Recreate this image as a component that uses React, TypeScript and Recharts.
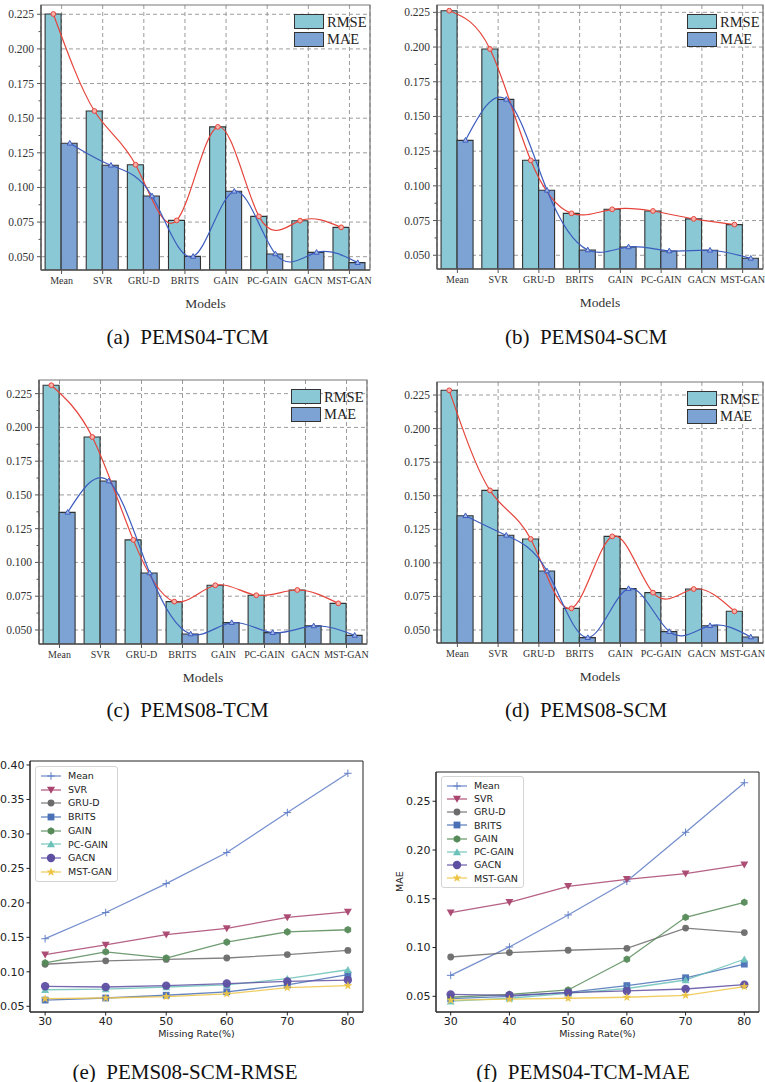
import React from 'react';
import {
  ComposedChart,
  LineChart,
  Bar,
  Line,
  XAxis,
  YAxis,
  CartesianGrid,
  Legend,
  ReferenceArea,
} from 'recharts';

const SERIF = '"Liberation Serif", "Times New Roman", serif';
const SANS = '"DejaVu Sans", Verdana, sans-serif';

// ---- bar panels (a)-(d) ----------------------------------------------------
const MODELS = ['Mean', 'SVR', 'GRU-D', 'BRITS', 'GAIN', 'PC-GAIN', 'GACN', 'MST-GAN'];

// (a) PEMS04-TCM
const A_RMSE = [0.2252, 0.1552, 0.1164, 0.0762, 0.1437, 0.0791, 0.076, 0.0712];
const A_MAE = [0.1319, 0.116, 0.0938, 0.0502, 0.0972, 0.052, 0.0531, 0.0457];
// (b) PEMS04-SCM
const B_RMSE = [0.2262, 0.1986, 0.1184, 0.0802, 0.0831, 0.0819, 0.0762, 0.0721];
const B_MAE = [0.1328, 0.1623, 0.0968, 0.0538, 0.056, 0.0531, 0.0536, 0.0478];
// (c) PEMS08-TCM
const C_RMSE = [0.2312, 0.1929, 0.1167, 0.071, 0.0831, 0.0757, 0.0796, 0.0697];
const C_MAE = [0.1371, 0.1603, 0.0922, 0.047, 0.0554, 0.048, 0.053, 0.046];
// (d) PEMS08-SCM
const D_RMSE = [0.2285, 0.154, 0.1178, 0.0661, 0.1197, 0.0778, 0.0805, 0.0639];
const D_MAE = [0.1351, 0.1205, 0.0939, 0.0443, 0.0808, 0.0488, 0.0532, 0.0448];

const BAR_Y_TICKS = [
  0.05, 0.0625, 0.075, 0.0875, 0.1, 0.1125, 0.125, 0.1375, 0.15, 0.1625, 0.175, 0.1875, 0.2, 0.2125,
  0.225,
];
const BAR_Y_MAJOR = [0.05, 0.075, 0.1, 0.125, 0.15, 0.175, 0.2, 0.225];

const RMSE_FILL = '#8AC8D5';
const MAE_FILL = '#7CA3D4';
const BAR_EDGE = '#333333';
const RMSE_LINE = '#E5443B';
const MAE_LINE = '#3C5CBE';

// ---- line panels (e)-(f) ---------------------------------------------------
const MISSING_RATES = [30, 40, 50, 60, 70, 80];

// (e) PEMS08-SCM-RMSE
const E_MEAN = [0.148, 0.186, 0.228, 0.273, 0.331, 0.388];
const E_SVR = [0.125, 0.139, 0.154, 0.163, 0.179, 0.187];
const E_GRUD = [0.111, 0.116, 0.118, 0.12, 0.125, 0.131];
const E_BRITS = [0.059, 0.062, 0.066, 0.071, 0.081, 0.096];
const E_GAIN = [0.113, 0.129, 0.12, 0.143, 0.158, 0.161];
const E_PCGAIN = [0.074, 0.075, 0.078, 0.081, 0.09, 0.103];
const E_GACN = [0.079, 0.078, 0.08, 0.083, 0.086, 0.088];
const E_MSTGAN = [0.061, 0.062, 0.064, 0.068, 0.077, 0.08];

// (f) PEMS04-TCM-MAE
const F_MEAN = [0.0715, 0.1006, 0.1334, 0.168, 0.2182, 0.269];
const F_SVR = [0.1358, 0.1464, 0.1628, 0.17, 0.1758, 0.185];
const F_GRUD = [0.0903, 0.0948, 0.0972, 0.0992, 0.12, 0.1153];
const F_BRITS = [0.0476, 0.05, 0.054, 0.061, 0.069, 0.083];
const F_GAIN = [0.049, 0.052, 0.0565, 0.088, 0.131, 0.1464];
const F_PCGAIN = [0.045, 0.048, 0.053, 0.058, 0.0667, 0.088];
const F_GACN = [0.052, 0.051, 0.0538, 0.0555, 0.0575, 0.062];
const F_MSTGAN = [0.046, 0.047, 0.048, 0.049, 0.051, 0.06];

const E_Y_TICKS = [0.05, 0.1, 0.15, 0.2, 0.25, 0.3, 0.35, 0.4];
const F_Y_TICKS = [0.05, 0.1, 0.15, 0.2, 0.25];

const METHOD_STYLE = [
  { name: 'Mean', color: '#5F7DC6', shape: 'plus' },
  { name: 'SVR', color: '#A8446F', shape: 'triDown' },
  { name: 'GRU-D', color: '#6B6B6B', shape: 'circle' },
  { name: 'BRITS', color: '#4A70B6', shape: 'square' },
  { name: 'GAIN', color: '#568A58', shape: 'hexagon' },
  { name: 'PC-GAIN', color: '#6CC2B9', shape: 'triUp' },
  { name: 'GACN', color: '#5E4FA2', shape: 'bigCircle' },
  { name: 'MST-GAN', color: '#EDC445', shape: 'star' },
];

type Box = { left: number; top: number; right: number; bottom: number };

// ---------------------------------------------------------------------------
function BarYTick(props: any) {
  const { x, y, payload } = props;
  const v = payload.value as number;
  const major = BAR_Y_MAJOR.some((m) => Math.abs(m - v) < 1e-6);
  return (
    <g>
      <line x1={x} x2={x - (major ? 4 : 2.5)} y1={y} y2={y} stroke="#555" strokeWidth={1} />
      {major && (
        <text x={x - 7} y={y} dy="0.35em" textAnchor="end" fontFamily={SERIF} fontSize={11.5} fill="#333">
          {v.toFixed(3)}
        </text>
      )}
    </g>
  );
}

const RedDot = (p: any) => (
  <circle key={`r${p.index}`} cx={p.cx} cy={p.cy} r={2.4} fill="#F6B3AC" stroke={RMSE_LINE} strokeWidth={1} />
);
const BlueDot = (p: any) => (
  <polygon
    key={`b${p.index}`}
    points={`${p.cx},${p.cy - 2.8} ${p.cx - 2.6},${p.cy + 1.8} ${p.cx + 2.6},${p.cy + 1.8}`}
    fill="#A9B9E8"
    stroke={MAE_LINE}
    strokeWidth={1}
  />
);

function BarLegend() {
  const items = [
    { name: 'RMSE', color: RMSE_FILL },
    { name: 'MAE', color: MAE_FILL },
  ];
  return (
    <div>
      {items.map((s) => (
        <div key={s.name} style={{ display: 'flex', alignItems: 'center', height: 17.5 }}>
          <div
            style={{
              width: 30,
              height: 15,
              background: s.color,
              border: `1.2px solid ${BAR_EDGE}`,
              boxSizing: 'border-box',
            }}
          />
          <span style={{ marginLeft: 3, fontFamily: SERIF, fontSize: 14.5, color: '#222', lineHeight: 1 }}>
            {s.name}
          </span>
        </div>
      ))}
    </div>
  );
}

function BarPanel({ rmse, mae, domain, box }: { rmse: number[]; mae: number[]; domain: [number, number]; box: Box }) {
  const rows = MODELS.map((model, i) => ({ model, rmse: rmse[i], mae: mae[i] }));
  const rmsePts = rmse.map((v, i) => ({ pos: i - 0.2, v }));
  const maePts = mae.map((v, i) => ({ pos: i + 0.2, v }));
  const x0 = box.left - 41;
  const y0 = box.top - 5;
  const w = box.right - x0 + 14;
  const h = box.bottom - y0 + 43;
  return (
    <div style={{ position: 'absolute', left: x0, top: y0 }}>
      <ComposedChart
        width={w}
        height={h}
        data={rows}
        margin={{ top: 5, right: 14, bottom: 5, left: 0 }}
        barCategoryGap="10%"
        barGap={0}
      >
        <CartesianGrid
          xAxisId="cat"
          stroke="#9c9c9c"
          strokeDasharray="4 3"
          horizontalCoordinatesGenerator={({ yAxis }: any) => {
            const s = yAxis?.scale;
            if (typeof s === 'function') return BAR_Y_MAJOR.map((v) => s(v));
            if (s && typeof s.map === 'function') return BAR_Y_MAJOR.map((v) => s.map(v));
            return [];
          }}
        />
        <XAxis
          xAxisId="cat"
          dataKey="model"
          type="category"
          height={38}
          interval={0}
          tickSize={4}
          tickMargin={3}
          tick={{ fontSize: 10, fontFamily: SERIF, fill: '#333' }}
          tickLine={{ stroke: '#555' }}
          axisLine={{ stroke: '#555', strokeWidth: 1.3 }}
          label={{ value: 'Models', position: 'insideBottom', offset: 0, fontSize: 13.5, fontFamily: SERIF, fill: '#333' }}
        />
        <XAxis xAxisId="num" dataKey="pos" type="number" domain={[-0.5, 7.5]} allowDataOverflow hide />
        <YAxis
          type="number"
          domain={domain}
          allowDataOverflow
          ticks={BAR_Y_TICKS}
          interval={0}
          width={41}
          tickSize={0}
          tickMargin={0}
          tickLine={false}
          tick={<BarYTick />}
          axisLine={{ stroke: '#555', strokeWidth: 1.3 }}
        />
        <ReferenceArea
          xAxisId="num"
          x1={-0.5}
          x2={7.5}
          y1={domain[0]}
          y2={domain[1]}
          fill="none"
          fillOpacity={0}
          stroke="#777"
          strokeWidth={1.2}
        />
        <Bar xAxisId="cat" dataKey="rmse" fill={RMSE_FILL} stroke={BAR_EDGE} strokeWidth={1.1} isAnimationActive={false} />
        <Bar xAxisId="cat" dataKey="mae" fill={MAE_FILL} stroke={BAR_EDGE} strokeWidth={1.1} isAnimationActive={false} />
        <Line
          xAxisId="num"
          data={rmsePts}
          dataKey="v"
          type="natural"
          stroke={RMSE_LINE}
          strokeWidth={1.2}
          dot={RedDot}
          activeDot={false}
          isAnimationActive={false}
        />
        <Line
          xAxisId="num"
          data={maePts}
          dataKey="v"
          type="natural"
          stroke={MAE_LINE}
          strokeWidth={1.2}
          dot={BlueDot}
          activeDot={false}
          isAnimationActive={false}
        />
        <Legend
          layout="vertical"
          align="center"
          verticalAlign="middle"
          wrapperStyle={{ left: box.right - 76 - x0, top: box.top + 8 - y0, width: 'auto' }}
          content={() => <BarLegend />}
        />
      </ComposedChart>
    </div>
  );
}

// ---------------------------------------------------------------------------
function Marker({ shape, cx, cy, color }: { shape: string; cx: number; cy: number; color: string }) {
  switch (shape) {
    case 'plus':
      return (
        <g stroke={color} strokeWidth={1}>
          <line x1={cx - 3.8} x2={cx + 3.8} y1={cy} y2={cy} />
          <line x1={cx} x2={cx} y1={cy - 3.8} y2={cy + 3.8} />
        </g>
      );
    case 'triDown':
      return <polygon points={`${cx - 4},${cy - 3.2} ${cx + 4},${cy - 3.2} ${cx},${cy + 3.8}`} fill={color} />;
    case 'circle':
      return <circle cx={cx} cy={cy} r={3.4} fill={color} />;
    case 'square':
      return <rect x={cx - 3.4} y={cy - 3.4} width={6.8} height={6.8} fill={color} />;
    case 'hexagon': {
      const pts = [0, 1, 2, 3, 4, 5]
        .map((k) => {
          const a = (Math.PI / 3) * k + Math.PI / 6;
          return `${cx + 3.8 * Math.cos(a)},${cy + 3.8 * Math.sin(a)}`;
        })
        .join(' ');
      return <polygon points={pts} fill={color} />;
    }
    case 'triUp':
      return <polygon points={`${cx - 4},${cy + 3.2} ${cx + 4},${cy + 3.2} ${cx},${cy - 3.8}`} fill={color} />;
    case 'bigCircle':
      return <circle cx={cx} cy={cy} r={4.2} fill={color} />;
    case 'star': {
      const pts = Array.from({ length: 10 })
        .map((_, k) => {
          const r = k % 2 === 0 ? 4.6 : 1.9;
          const a = -Math.PI / 2 + (Math.PI / 5) * k;
          return `${cx + r * Math.cos(a)},${cy + r * Math.sin(a)}`;
        })
        .join(' ');
      return <polygon points={pts} fill={color} />;
    }
    default:
      return null;
  }
}

function LineLegend({ rowH }: { rowH: number }) {
  return (
    <div
      style={{
        border: '1px solid #d4d4d4',
        borderRadius: 3,
        background: 'rgba(255,255,255,0.9)',
        padding: '2px 5px 2px 3px',
      }}
    >
      {METHOD_STYLE.map((m) => (
        <div key={m.name} style={{ display: 'flex', alignItems: 'center', height: rowH }}>
          <svg width={24} height={12} style={{ display: 'block' }}>
            <line x1={2} x2={22} y1={6} y2={6} stroke={m.color} strokeWidth={1.3} strokeOpacity={0.85} />
            <Marker shape={m.shape} cx={12} cy={6} color={m.color} />
          </svg>
          <span style={{ marginLeft: 5, fontFamily: SANS, fontSize: 9.5, color: '#222', lineHeight: 1 }}>{m.name}</span>
        </div>
      ))}
    </div>
  );
}

function LinePanel({
  values,
  box,
  yDomain,
  yTicks,
  yLabel,
  legend,
}: {
  values: number[][];
  box: Box;
  yDomain: [number, number];
  yTicks: number[];
  yLabel?: string;
  legend: { left: number; top: number; rowH: number };
}) {
  const rows = MISSING_RATES.map((rate, i) => {
    const row: Record<string, number> = { rate };
    METHOD_STYLE.forEach((m, k) => {
      row[m.name] = values[k][i];
    });
    return row;
  });
  const x0 = yLabel ? box.left - 56 : box.left - 30;
  const y0 = box.top - 5;
  const w = box.right - x0 + 5;
  const h = box.bottom - y0 + 25 + 6;
  return (
    <div style={{ position: 'absolute', left: x0, top: y0 }}>
      <LineChart width={w} height={h} data={rows} margin={{ top: 5, right: 5, bottom: 6, left: 0 }}>
        <XAxis
          dataKey="rate"
          type="number"
          domain={[27.5, 82.5]}
          allowDataOverflow
          ticks={MISSING_RATES}
          interval={0}
          height={25}
          tickSize={3.5}
          tickMargin={2}
          tick={{ fontSize: 11, fontFamily: SANS, fill: '#222' }}
          tickLine={{ stroke: '#222' }}
          axisLine={{ stroke: '#222' }}
          label={{ value: 'Missing Rate(%)', position: 'insideBottom', offset: 0, fontSize: 9.5, fontFamily: SANS, fill: '#222' }}
        />
        <YAxis
          type="number"
          domain={yDomain}
          allowDataOverflow
          ticks={yTicks}
          interval={0}
          width={box.left - x0}
          tickSize={3.5}
          tickMargin={2}
          tickFormatter={(v: number) => v.toFixed(2)}
          tick={{ fontSize: 11, fontFamily: SANS, fill: '#222' }}
          tickLine={{ stroke: '#222' }}
          axisLine={{ stroke: '#222' }}
          label={
            yLabel
              ? { value: yLabel, angle: -90, position: 'insideLeft', offset: 20, fontSize: 9.5, fontFamily: SANS, fill: '#222' }
              : undefined
          }
        />
        <ReferenceArea
          x1={27.5}
          x2={82.5}
          y1={yDomain[0]}
          y2={yDomain[1]}
          fill="none"
          fillOpacity={0}
          stroke="#222"
          strokeWidth={1}
        />
        {METHOD_STYLE.map((m) => (
          <Line
            key={m.name}
            dataKey={m.name}
            type="linear"
            stroke={m.color}
            strokeWidth={1.3}
            strokeOpacity={0.85}
            dot={(p: any) => (
              <g key={`${m.name}${p.index}`} opacity={0.95}>
                <Marker shape={m.shape} cx={p.cx} cy={p.cy} color={m.color} />
              </g>
            )}
            activeDot={false}
            isAnimationActive={false}
          />
        ))}
        <Legend
          layout="vertical"
          align="center"
          verticalAlign="middle"
          wrapperStyle={{ left: legend.left - x0, top: legend.top - y0, width: 'auto' }}
          content={() => <LineLegend rowH={legend.rowH} />}
        />
      </LineChart>
    </div>
  );
}

function Caption({ text, x, y }: { text: string; x: number; y: number }) {
  return (
    <div
      style={{
        position: 'absolute',
        left: x,
        top: y,
        transform: 'translate(-50%, -50%)',
        fontFamily: SERIF,
        fontSize: 21,
        lineHeight: 1,
        whiteSpace: 'pre',
        color: '#111',
      }}
    >
      {text}
    </div>
  );
}

export default function App() {
  return (
    <div
      style={{
        position: 'absolute',
        left: 0,
        top: 0,
        width: 765,
        height: 1082,
        overflow: 'hidden',
        background: '#fff',
      }}
    >
      <BarPanel rmse={A_RMSE} mae={A_MAE} domain={[0.0404, 0.2317]} box={{ left: 41, top: 5, right: 370, bottom: 270 }} />
      <BarPanel rmse={B_RMSE} mae={B_MAE} domain={[0.0401, 0.2303]} box={{ left: 437, top: 5, right: 763, bottom: 269 }} />
      <BarPanel rmse={C_RMSE} mae={C_MAE} domain={[0.0396, 0.2351]} box={{ left: 39, top: 380, right: 367, bottom: 644 }} />
      <BarPanel rmse={D_RMSE} mae={D_MAE} domain={[0.0403, 0.2347]} box={{ left: 437, top: 382, right: 763, bottom: 643 }} />

      <LinePanel
        values={[E_MEAN, E_SVR, E_GRUD, E_BRITS, E_GAIN, E_PCGAIN, E_GACN, E_MSTGAN]}
        box={{ left: 30, top: 761, right: 363, bottom: 1012 }}
        yDomain={[0.0417, 0.4058]}
        yTicks={E_Y_TICKS}
        legend={{ left: 35, top: 766, rowH: 13.7 }}
      />
      <LinePanel
        values={[F_MEAN, F_SVR, F_GRUD, F_BRITS, F_GAIN, F_PCGAIN, F_GACN, F_MSTGAN]}
        box={{ left: 436, top: 772, right: 759, bottom: 1012 }}
        yDomain={[0.0339, 0.28]}
        yTicks={F_Y_TICKS}
        yLabel="MAE"
        legend={{ left: 441, top: 776, rowH: 13.25 }}
      />

      <Caption text="(a)  PEMS04-TCM" x={187.5} y={337} />
      <Caption text="(b)  PEMS04-SCM" x={586} y={337} />
      <Caption text="(c)  PEMS08-TCM" x={187.5} y={710} />
      <Caption text="(d)  PEMS08-SCM" x={586} y={710} />
      <Caption text="(e)  PEMS08-SCM-RMSE" x={185} y={1072} />
      <Caption text="(f)  PEMS04-TCM-MAE" x={583} y={1072} />
    </div>
  );
}
